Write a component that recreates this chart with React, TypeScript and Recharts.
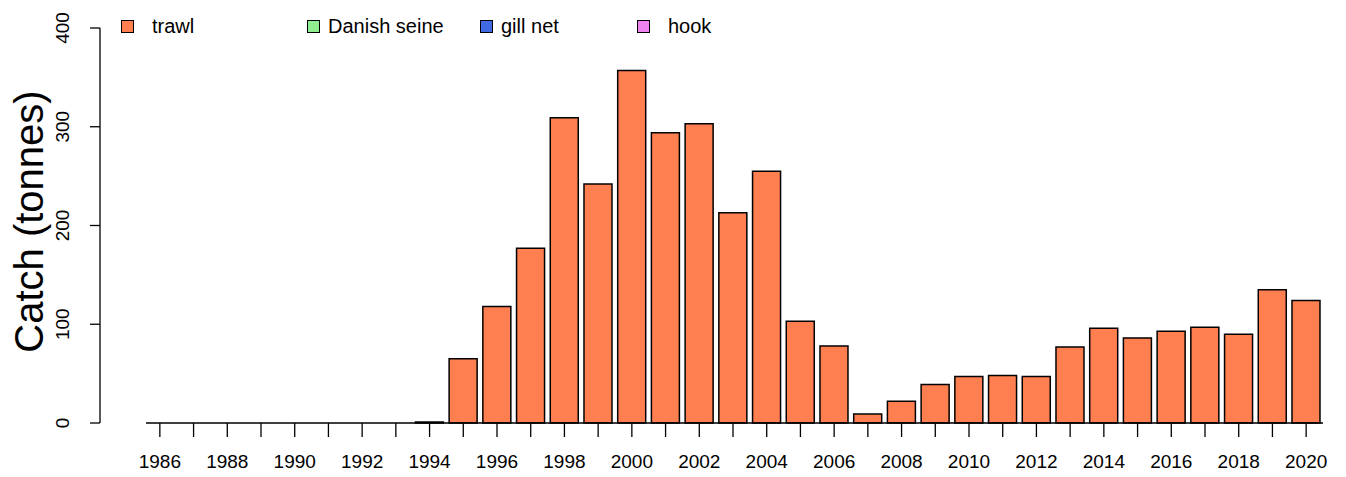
import { Bar, BarChart, XAxis, YAxis } from "recharts";

// catch by year, trawl only (other gears are ~0 at this scale)
const years = [
  1986, 1987, 1988, 1989, 1990, 1991, 1992, 1993, 1994, 1995, 1996, 1997,
  1998, 1999, 2000, 2001, 2002, 2003, 2004, 2005, 2006, 2007, 2008, 2009,
  2010, 2011, 2012, 2013, 2014, 2015, 2016, 2017, 2018, 2019, 2020,
];
const trawl = [
  0, 0, 0, 0, 0, 0, 0, 0, 1, 65, 118, 177, 309, 242, 357, 294, 303, 213, 255,
  103, 78, 9, 22, 39, 47, 48, 47, 77, 96, 86, 93, 97, 90, 135, 124,
];
const yTicks = [0, 100, 200, 300, 400];
const gears = ["trawl", "Danish seine", "gill net", "hook"];
const gearColors = ["#FF7F50", "#90EE90", "#4169E1", "#EE82EE"];

const data = years.map((year, i) => ({ year, trawl: trawl[i] }));

const FONT = '"Liberation Sans", Arial, sans-serif';

const YTick = (props: any) => {
  const { x, y, payload } = props;
  return (
    <text
      x={x - 21}
      y={y}
      transform={`rotate(-90 ${x - 21} ${y})`}
      textAnchor="middle"
      fontSize={19}
      fontFamily={FONT}
      fill="#000"
    >
      {payload.value}
    </text>
  );
};

const XTick = (props: any) => {
  const { x, y, payload } = props;
  // only every other year is labelled
  if (payload.value % 2 !== 0) return null;
  return (
    <text
      x={x}
      y={y + 31}
      textAnchor="middle"
      fontSize={19}
      fontFamily={FONT}
      fill="#000"
    >
      {payload.value}
    </text>
  );
};

const itemWidths = [186, 173, 157, 100];

// legend sits over the plot, like R's legend("topleft", ...)
const GearLegend = () => (
  <div
    style={{
      position: "absolute",
      top: 15,
      left: 121,
      display: "flex",
      fontFamily: FONT,
      fontSize: 20,
      lineHeight: "22px",
    }}
  >
    {gears.map((g, i) => (
      <div
        key={g}
        style={{ width: itemWidths[i], display: "flex", alignItems: "center" }}
      >
        <span
          style={{
            display: "inline-block",
            width: 11,
            height: 11,
            border: "1px solid #000",
            background: gearColors[i],
            marginRight: i === 0 || i === 3 ? 18 : 8,
          }}
        />
        <span>{g}</span>
      </div>
    ))}
  </div>
);

export default function App() {
  return (
    <div style={{ position: "absolute", left: 0, top: 0, width: 1346, height: 477, background: "#fff" }}>
      <BarChart
        width={1346}
        height={477}
        data={data}
        margin={{ top: 28, right: 23, left: 0, bottom: 0 }}
        barCategoryGap="8%"
      >
        <YAxis
          domain={[0, 400]}
          ticks={yTicks}
          width={100}
          tickSize={10}
          tickMargin={0}
          tick={<YTick />}
          axisLine={{ stroke: "#000", strokeWidth: 1.3 }}
          tickLine={{ stroke: "#000", strokeWidth: 1.3 }}
          label={{
            value: "Catch (tonnes)",
            angle: -90,
            position: "insideLeft",
            dx: 24,
            dy: -4,
            style: { fontSize: 40, fontFamily: FONT, fill: "#000", textAnchor: "middle" },
          }}
        />
        <XAxis
          dataKey="year"
          height={54}
          interval={0}
          padding={{ left: 43, right: 0 }}
          tickSize={14}
          tickMargin={0}
          tick={<XTick />}
          axisLine={{ stroke: "#000", strokeWidth: 1.3, strokeDasharray: "0 46 1174" }}
          tickLine={{ stroke: "#000", strokeWidth: 1.3 }}
        />
        <Bar
          dataKey="trawl"
          fill="#FF7F50"
          stroke="#000"
          strokeWidth={1.5}
          isAnimationActive={false}
        />
      </BarChart>
      <GearLegend />
    </div>
  );
}
